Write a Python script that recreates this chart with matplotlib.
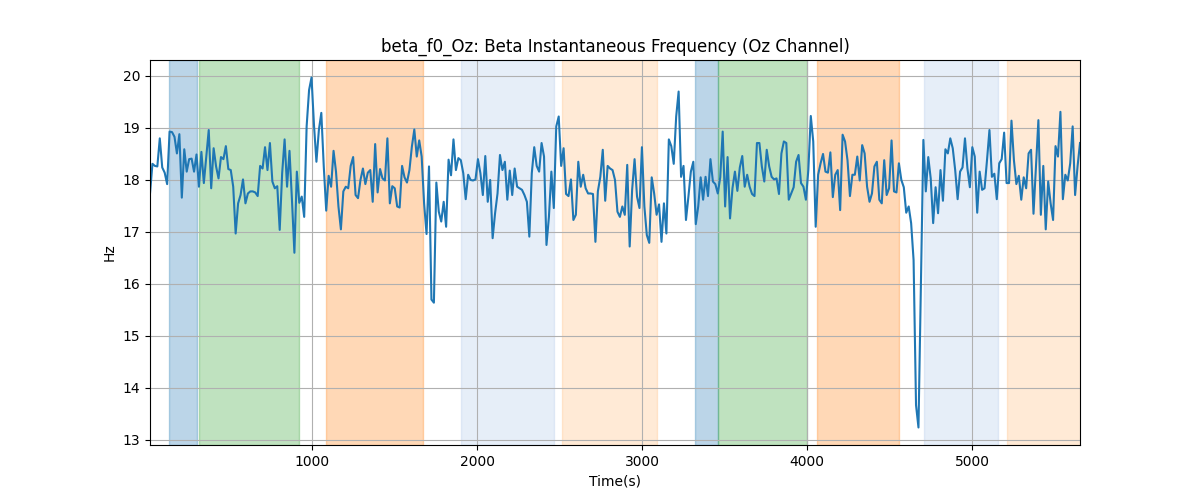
import numpy as np
import matplotlib
matplotlib.use("Agg")
import matplotlib.pyplot as plt

# beta instantaneous frequency, Oz channel (Hz), evenly sampled
t_start = 15
t_end = 5655
beta_f0 = [
    17.74, 18.31, 18.27, 18.26, 18.8, 18.24, 18.14, 17.92, 18.93, 18.92, 18.83, 18.51, 18.88, 17.66,
    18.59, 18.16, 18.4, 18.41, 18.16, 18.49, 17.87, 18.54, 17.94, 18.45, 18.96, 17.84, 18.61, 18.26,
    18.03, 18.44, 18.4, 18.65, 18.21, 18.19, 17.87, 16.97, 17.55, 17.71, 18.01, 17.55, 17.74, 17.78,
    17.78, 17.76, 17.69, 18.27, 18.22, 18.63, 18.19,
    18.71, 17.97, 17.84, 17.88, 17.04, 18.13, 18.78, 17.87, 18.56, 17.62, 16.6, 18.16, 17.56, 17.68,
    17.29, 19.03, 19.73, 19.97, 19.06, 18.35, 18.96, 19.29, 18.26, 17.41, 18.08, 17.87, 18.56, 18.16,
    17.49, 17.05, 17.78, 17.87, 17.84, 18.27, 18.44, 17.71, 17.65, 18.0, 18.22, 17.92, 18.14, 18.19,
    17.58, 18.69, 17.76, 18.21, 18.03,
    17.99, 18.8, 17.55, 17.88, 17.84, 17.49, 17.47, 18.27, 18.05, 17.95, 18.19, 18.64, 18.97, 18.45,
    18.76, 18.45, 17.55, 16.96, 18.26, 15.7, 15.64, 17.95, 17.39, 17.2, 17.58, 17.1, 18.39, 18.09,
    18.78, 18.19, 18.42, 18.38, 18.13, 17.63, 18.1, 18.0, 17.99, 18.01, 18.4, 18.13, 17.71, 18.46,
    17.58, 18.0, 16.88, 17.36,
    17.74, 18.48, 18.19, 18.35, 17.62, 18.18, 17.71, 18.22, 17.87, 17.84, 17.81, 17.71, 17.58, 16.91,
    18.13, 18.63, 18.27, 18.16, 18.71, 18.45, 16.75, 17.29, 18.16, 17.46, 19.03, 19.22, 18.27, 18.61,
    17.73, 17.69, 18.01, 17.23, 17.33, 18.35, 17.87, 18.1, 17.84, 17.74, 17.74, 17.73, 16.81, 17.78,
    18.06, 18.58, 17.6, 18.27, 18.22,
    18.19, 18.0, 17.39, 17.29, 17.49, 17.33, 18.29, 16.72, 17.81, 18.4, 17.68, 17.46, 18.63, 17.49,
    16.94, 16.79, 18.05, 17.74, 17.33, 17.53, 16.81, 17.55, 16.97, 18.78, 18.65, 18.31, 19.22, 19.7,
    18.06, 18.27, 17.23, 17.68, 18.16, 18.35, 17.15, 17.49, 18.05, 17.62, 18.06, 17.69, 18.4, 17.97,
    17.92, 17.74, 18.05, 18.93, 17.49,
    18.44, 17.26, 17.84, 18.16, 17.79, 18.24, 18.46, 17.87, 18.1, 17.87, 17.73, 17.69, 18.71, 18.71,
    18.26, 17.97, 18.58, 18.26, 18.06, 18.01, 18.03, 17.73, 18.51, 18.74, 18.71, 17.62, 17.74, 17.86,
    18.35, 18.48, 17.94, 17.87, 17.62, 18.19, 19.23, 18.74, 17.1, 18.1, 18.32, 18.5, 18.16, 18.14,
    18.53, 17.67, 18.1, 18.19, 17.42,
    18.87, 18.74, 18.38, 17.69, 18.1, 18.1, 18.45, 17.99, 18.67, 18.51, 17.87, 17.58, 17.74, 18.26,
    18.35, 17.62, 17.55, 18.38, 17.71, 17.84, 18.76, 17.78, 17.76, 18.32, 18.0, 17.86, 17.37, 17.49,
    17.17, 16.46, 13.67, 13.24, 16.0, 18.77, 17.78, 18.44, 18.03, 17.17, 17.86, 17.36, 18.19, 17.6,
    18.59, 18.51, 18.8, 18.61,
    18.19, 17.63, 18.16, 18.24, 18.8, 18.22, 17.86, 18.63, 18.45, 17.37, 18.16, 17.81, 17.84, 18.38,
    18.96, 18.06, 18.12, 17.63, 18.32, 18.4, 18.91, 17.94, 17.94, 19.14, 18.38, 17.92, 18.08, 17.62,
    18.05, 17.84, 18.51, 18.58, 17.35, 18.26, 19.15, 17.33, 18.27, 17.05, 17.97, 17.55, 17.23, 18.65,
    18.45, 19.31, 17.63, 18.1, 17.99, 18.32, 19.03, 17.71, 18.26, 18.71,
]

# shaded task segments: start, end, colour (tab20 palette, alpha 0.3)
seg_start = [132, 312, 1081, 1900, 2511, 3320, 3462, 4061, 4709, 5213]
seg_end = [302, 919, 1672, 2463, 3088, 3462, 4000, 4557, 5158, 5700]
seg_color = ["#1f77b4", "#2ca02c", "#ff7f0e", "#aec7e8", "#ffbb78",
             "#1f77b4", "#2ca02c", "#ff7f0e", "#aec7e8", "#ffbb78"]

t = np.linspace(t_start, t_end, len(beta_f0))

fig, ax = plt.subplots(figsize=(12, 5), dpi=100)
for s, e, c in zip(seg_start, seg_end, seg_color):
    ax.axvspan(s, e, color=c, alpha=0.3)
ax.plot(t, beta_f0, color="tab:blue", linewidth=1.5)
ax.set_xlim(t_start, t_end)
ax.set_title("beta_f0_Oz: Beta Instantaneous Frequency (Oz Channel)")
ax.set_xlabel("Time(s)")
ax.set_ylabel("Hz")
ax.grid(True)
plt.savefig("out.png")
